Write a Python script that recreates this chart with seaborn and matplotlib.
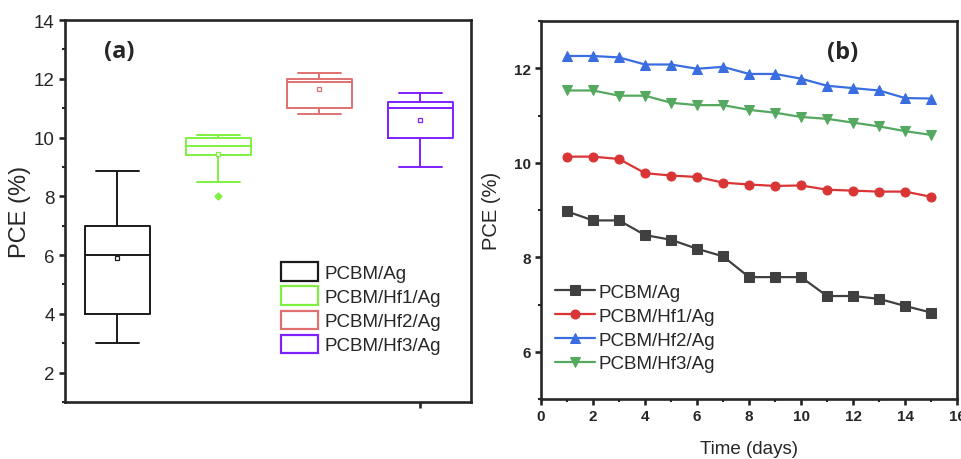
import numpy as np
import pandas as pd
import matplotlib
matplotlib.use("Agg")
import matplotlib.pyplot as plt
import seaborn as sns
from matplotlib.patches import Patch
from matplotlib.ticker import MultipleLocator

#1: Data
devices = ["PCBM/Ag", "PCBM/Hf1/Ag", "PCBM/Hf2/Ag", "PCBM/Hf3/Ag"]

# box stats
whis_low = [3.0, 8.5, 10.8, 9.0]
q1 = [4.0, 9.4, 11.0, 10.0]
medians = [6.0, 9.7, 11.9, 11.0]
q3 = [7.0, 10.0, 12.0, 11.2]
whis_high = [8.85, 10.1, 12.2, 11.5]
means = [5.9, 9.45, 11.65, 10.6]
outliers = [[], [8.0], [], []]
box_colors = ["#1a1a1a", "#80f040", "#e07070", "#7f20ff"]

# stability over time, panel (b)
days = list(range(1, 16))
pce_ag = [8.97, 8.78, 8.78, 8.47, 8.37, 8.18, 8.02, 7.58, 7.58, 7.58, 7.18, 7.18, 7.12, 6.97, 6.83]
pce_hf1 = [10.13, 10.13, 10.08, 9.78, 9.73, 9.70, 9.58, 9.54, 9.51, 9.52, 9.43, 9.41, 9.39, 9.39, 9.28]
pce_hf2 = [12.26, 12.26, 12.23, 12.08, 12.08, 11.99, 12.03, 11.88, 11.88, 11.78, 11.63, 11.58, 11.53, 11.37, 11.36]
pce_hf3 = [11.53, 11.53, 11.42, 11.42, 11.27, 11.22, 11.22, 11.12, 11.06, 10.97, 10.93, 10.85, 10.77, 10.67, 10.59]
line_colors = ["#404040", "#d93535", "#3a6ee0", "#55a860"]
line_markers = ["s", "o", "^", "v"]

#2: Style
sns.set_style("ticks")
plt.rcParams["font.family"] = ["Liberation Sans", "DejaVu Sans"]
plt.rcParams["axes.linewidth"] = 1.9

fig = plt.figure(figsize=(9.61, 4.6), dpi=100)
ax1 = fig.add_axes([0.0676, 0.1239, 0.4225, 0.8304])
ax2 = fig.add_axes([0.563, 0.1304, 0.4329, 0.8217])

#3: Panel (a) box plot
for i, c in enumerate(box_colors):
    stats = [{
        "whislo": whis_low[i], "q1": q1[i], "med": medians[i], "q3": q3[i],
        "whishi": whis_high[i], "mean": means[i], "fliers": outliers[i],
    }]
    ax1.bxp(stats, positions=[i], widths=0.64, capwidths=0.42, showmeans=True,
            boxprops=dict(color=c, lw=1.4),
            medianprops=dict(color=c, lw=1.4),
            whiskerprops=dict(color=c, lw=1.4),
            capprops=dict(color=c, lw=1.4),
            meanprops=dict(marker="s", markerfacecolor="white", markeredgecolor=c,
                           markersize=3.5, markeredgewidth=0.9),
            flierprops=dict(marker="D", markerfacecolor=c, markeredgecolor=c,
                            markersize=3.5))

ax1.set_xlim(-0.52, 3.5)
ax1.set_ylim(1, 14)
ax1.set_xticks([3])
ax1.set_xticklabels([""])
ax1.yaxis.set_major_locator(MultipleLocator(2))
ax1.yaxis.set_minor_locator(MultipleLocator(1))
ax1.set_yticks([2, 4, 6, 8, 10, 12, 14])
ax1.tick_params(axis="y", which="major", labelsize=13.5, width=1.9, length=4)
ax1.tick_params(axis="y", which="minor", width=1.5, length=2.5)
ax1.tick_params(axis="x", width=1.9, length=4)
ax1.set_ylabel("PCE (%)", fontsize=17, labelpad=2)
ax1.text(0.133, 0.919, "(a)", transform=ax1.transAxes, fontsize=17,
         fontweight="bold", family="Open Sans", ha="center", va="center")

handles1 = [Patch(facecolor="white", edgecolor=c, lw=1.6) for c in box_colors]
ax1.legend(handles1, devices, loc="upper left", bbox_to_anchor=(0.532, 0.366),
           frameon=False, fontsize=13.5, handlelength=2.0, handleheight=1.15,
           labelspacing=0.24, handletextpad=0.3, borderpad=0, borderaxespad=0)

#4: Panel (b) stability lines
series = [pce_ag, pce_hf1, pce_hf2, pce_hf3]
for vals, lab, c, m in zip(series, devices, line_colors, line_markers):
    df = pd.DataFrame({"day": days, "pce": vals})
    sns.lineplot(data=df, x="day", y="pce", ax=ax2, color=c, marker=m,
                 markersize=6.5, markeredgecolor=c, lw=1.6, label=lab)

ax2.set_xlim(0, 16)
ax2.set_ylim(5, 13)
ax2.xaxis.set_major_locator(MultipleLocator(2))
ax2.xaxis.set_minor_locator(MultipleLocator(1))
ax2.set_yticks([6, 8, 10, 12])
ax2.yaxis.set_minor_locator(MultipleLocator(1))
ax2.tick_params(which="major", labelsize=11, width=1.9, length=4)
ax2.tick_params(which="minor", width=1.5, length=2.5)
for t in ax2.get_xticklabels() + ax2.get_yticklabels():
    t.set_fontweight("bold")
ax2.set_xlabel("Time (days)", fontsize=13.5, labelpad=12)
ax2.set_ylabel("PCE (%)", fontsize=14.5, labelpad=9)
ax2.text(0.724, 0.918, "(b)", transform=ax2.transAxes, fontsize=17,
         fontweight="bold", family="Open Sans", ha="center", va="center")
ax2.legend(loc="upper left", bbox_to_anchor=(0.034, 0.305), frameon=False,
           fontsize=13.5, handlelength=2.1, labelspacing=0.36, handletextpad=0.2,
           borderpad=0, borderaxespad=0)

fig.savefig("out.png", dpi=100)
